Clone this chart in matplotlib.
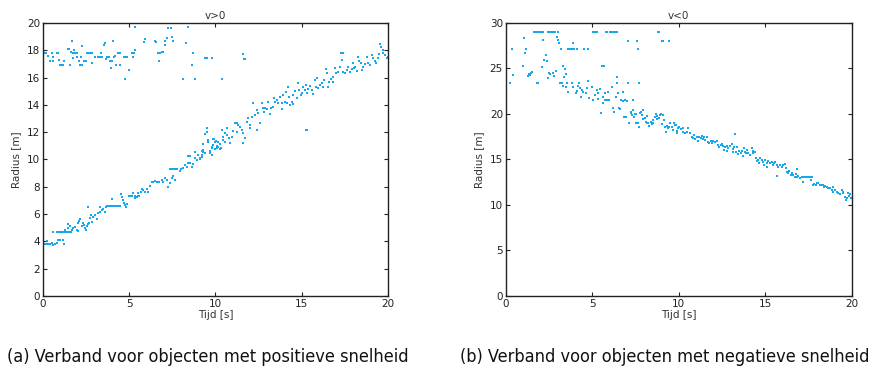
import matplotlib
matplotlib.use("Agg")
import matplotlib.pyplot as plt
import numpy as np

# --- data: (tijd [s], radius [m]) ---
# v>0, upper band (ghost targets near 17-19 m)
pos_upper = [
    (0.0, 17.8), (0.1, 17.8), (0.2, 17.8), (0.33, 17.55), (0.42, 17.25), (0.52, 17.8), (0.58, 17.5),
    (0.62, 17.25), (0.8, 17.8), (0.87, 17.8), (0.94, 17.3), (1.0, 16.95), (1.1, 16.9), (1.2, 16.9),
    (1.23, 17.2), (1.44, 18.1), (1.52, 18.1), (1.58, 16.95), (1.63, 17.9), (1.67, 18.7), (1.73, 17.8),
    (1.8, 18.05), (1.77, 17.45), (1.87, 17.8), (1.96, 17.8), (2.0, 17.5), (2.1, 17.2), (2.15, 16.95),
    (2.25, 16.95), (2.2, 17.5), (2.3, 18.3), (2.38, 17.2), (2.48, 17.2), (2.54, 17.8), (2.63, 17.8),
    (2.73, 17.8), (2.83, 17.8), (2.87, 17.05), (3.02, 17.5), (3.2, 17.5), (3.3, 17.5), (3.4, 17.8),
    (3.46, 17.5), (3.54, 18.4), (3.6, 18.55), (3.65, 17.35), (3.73, 17.5), (3.83, 17.5), (3.88, 17.2),
    (3.94, 16.7), (4.0, 17.2), (4.08, 18.7), (4.13, 17.5), (4.2, 17.55), (4.27, 16.9), (4.37, 17.8),
    (4.46, 16.9), (4.5, 17.8), (4.75, 15.9), (4.7, 17.5), (4.79, 17.5), (4.88, 17.5), (4.98, 16.55),
    (5.17, 17.8), (5.23, 17.5), (5.29, 17.8), (5.33, 18.05), (5.37, 19.7), (5.85, 18.6), (5.9, 18.85),
    (6.48, 18.7), (6.58, 18.6), (6.67, 17.8), (6.73, 17.25), (6.8, 17.8), (6.9, 17.9), (6.96, 17.9),
    (7.06, 18.7), (7.1, 18.4), (7.2, 18.9), (7.25, 19.65), (7.44, 19.65), (7.48, 19.0), (7.54, 18.7),
    (8.15, 15.9), (8.3, 18.55), (8.4, 19.7), (8.65, 16.9), (8.73, 17.8), (8.8, 15.9), (9.4, 17.4),
    (9.5, 17.4), (9.8, 17.4), (10.4, 15.9), (11.58, 17.73), (11.66, 17.36), (11.74, 17.36),
    (15.25, 12.16), (15.3, 12.16),
]

# v>0, main band (object moving away)
pos_main = [
    (0.0, 3.78), (0.1, 3.78), (0.2, 3.78), (0.3, 3.78), (0.4, 3.78), (0.23, 4.05), (0.52, 3.86),
    (0.62, 3.74), (0.58, 4.66), (0.71, 3.78), (0.81, 3.86), (0.9, 4.1), (1.0, 4.1), (1.2, 4.1),
    (1.25, 3.78), (0.8, 4.66), (0.9, 4.66), (1.0, 4.66), (1.1, 4.66), (1.2, 4.66), (1.3, 4.66),
    (1.4, 4.66), (1.5, 4.66), (1.6, 4.66), (1.65, 4.66), (1.3, 4.83), (1.49, 4.96), (1.49, 5.27),
    (1.58, 5.15), (1.68, 4.83), (1.78, 4.96), (1.87, 5.08), (1.97, 4.83), (2.07, 4.76), (2.07, 5.32),
    (2.12, 5.52), (2.16, 5.62), (2.26, 5.13), (2.32, 5.37), (2.39, 5.2), (2.45, 4.96), (2.51, 4.83),
    (2.55, 5.13), (2.64, 6.54), (2.64, 5.27), (2.7, 5.37), (2.74, 5.69), (2.78, 5.93), (2.84, 5.45),
    (2.93, 5.76), (3.03, 5.93), (3.13, 5.62), (3.22, 6.06), (3.32, 6.18), (3.32, 6.54), (3.42, 6.3),
    (3.51, 6.35), (3.61, 6.18), (3.67, 6.54), (3.7, 6.6), (3.8, 6.6), (3.9, 6.58), (4.0, 6.6),
    (4.1, 6.62), (4.2, 6.6), (4.3, 6.58), (4.4, 6.6), (4.48, 6.62), (4.03, 7.08), (4.52, 7.47),
    (4.58, 7.28), (4.67, 7.03), (4.71, 6.79), (4.77, 6.67), (4.83, 6.54), (4.9, 6.74), (5.02, 7.35),
    (5.1, 7.35), (5.2, 7.33), (5.35, 7.35), (5.5, 7.36), (5.6, 7.35), (5.25, 7.52), (5.35, 7.15),
    (5.44, 7.28), (5.54, 7.57), (5.68, 7.64), (5.73, 7.81), (5.83, 7.77), (5.93, 7.64), (6.02, 7.81),
    (6.12, 7.64), (6.22, 8.06), (6.31, 8.38), (6.4, 8.38), (6.5, 8.4), (6.6, 8.38), (6.75, 8.38),
    (6.89, 8.5), (6.99, 8.38), (7.08, 8.62), (7.28, 8.01), (7.37, 8.25), (7.47, 8.62), (7.57, 8.79),
    (7.66, 8.5), (7.18, 8.5), (7.4, 9.3), (7.5, 9.3), (7.6, 9.28), (7.7, 9.3), (7.8, 9.3), (8.0, 9.3),
    (7.95, 9.18), (8.15, 9.35), (8.24, 9.6), (8.34, 9.43), (8.4, 10.26), (8.44, 9.72), (8.53, 9.77),
    (8.63, 9.47), (8.73, 9.67), (8.82, 10.09), (8.92, 9.96), (9.02, 10.33), (9.11, 10.01),
    (9.21, 10.21), (9.3, 10.57), (9.4, 10.5), (9.69, 10.57), (9.79, 10.33), (8.53, 10.28),
    (8.8, 10.55), (9.2, 10.6), (9.3, 11.1), (9.4, 11.9), (9.5, 12.3), (9.6, 11.3), (9.7, 10.6),
    (9.8, 10.9), (9.9, 11.5), (10.0, 11.3), (10.1, 10.85), (9.11, 10.09), (9.2, 10.33), (9.3, 10.7),
    (9.5, 12.04), (9.59, 11.43), (9.69, 10.45), (9.78, 10.82), (9.88, 11.06), (9.88, 11.48),
    (9.98, 10.74), (10.04, 11.36), (10.07, 10.99), (10.17, 10.94), (10.17, 11.31), (10.27, 10.74),
    (10.27, 11.14), (10.33, 10.82), (10.36, 12.16), (10.42, 11.43), (10.46, 11.67), (10.56, 11.97),
    (10.56, 11.31), (10.65, 12.28), (10.69, 11.79), (10.8, 11.6), (10.84, 11.18), (10.94, 11.67),
    (11.04, 12.11), (11.14, 12.7), (11.24, 12.65), (11.24, 12.04), (11.33, 12.53), (11.43, 12.36),
    (11.53, 12.16), (11.58, 11.23), (11.62, 11.92), (11.72, 11.55), (11.82, 12.77), (11.91, 13.06),
    (12.01, 12.53), (12.01, 12.28), (12.1, 13.14), (12.2, 14.16), (12.3, 13.26), (12.39, 12.16),
    (12.43, 13.63), (12.49, 13.38), (12.59, 12.65), (12.68, 14.16), (12.74, 13.75), (12.82, 13.5),
    (12.87, 13.75), (12.97, 13.68), (13.07, 14.24), (13.16, 13.33), (13.2, 13.75), (13.32, 13.87),
    (13.4, 14.48), (13.45, 14.24), (13.55, 14.36), (13.65, 14.11), (13.74, 14.55), (13.84, 13.68),
    (13.84, 14.11), (13.94, 14.73), (14.03, 14.24), (14.09, 14.97), (14.17, 14.16), (14.23, 15.29),
    (14.29, 14.55), (14.33, 13.99), (14.42, 14.24), (14.48, 14.73), (14.52, 14.07), (14.61, 15.04),
    (14.71, 14.48), (14.81, 15.58), (14.86, 15.09), (14.94, 14.73), (15.0, 14.85), (15.1, 15.34),
    (15.19, 15.09), (15.25, 15.46), (15.29, 14.9), (15.39, 15.14), (15.48, 15.38), (15.58, 15.09),
    (15.67, 14.8), (15.77, 15.82), (15.83, 15.34), (15.9, 15.94), (15.96, 15.21), (16.06, 15.46),
    (16.15, 15.58), (16.25, 15.34), (16.31, 15.82), (16.41, 16.61), (16.45, 16.31), (16.54, 15.34),
    (16.6, 15.7), (16.68, 15.87), (16.79, 16.07), (16.83, 15.7), (16.93, 16.68), (16.98, 16.31),
    (17.12, 16.43), (17.22, 16.75), (17.28, 17.78), (17.32, 17.29), (17.37, 17.78), (17.41, 16.43),
    (17.51, 16.36), (17.61, 16.56), (17.7, 16.8), (17.8, 16.43), (17.9, 16.61), (17.96, 17.05),
    (18.03, 16.68), (18.09, 16.8), (18.19, 16.51), (18.24, 17.53), (18.34, 17.24), (18.41, 17.09),
    (18.5, 16.56), (18.57, 16.8), (18.66, 17.0), (18.76, 17.53), (18.86, 17.05), (18.96, 16.92),
    (19.05, 17.66), (19.15, 17.41), (19.25, 17.24), (19.3, 17.09), (19.4, 17.41), (19.49, 17.73),
    (19.53, 18.46), (19.62, 18.22), (19.69, 17.78), (19.73, 18.02), (19.82, 17.66), (19.92, 17.41),
    (20.0, 17.53),
]

# v<0, upper cluster (23-29 m)
neg_upper = [
    (0.25, 23.37), (0.39, 27.1), (0.44, 24.29), (1.02, 25.27), (1.06, 28.39), (1.12, 26.74),
    (1.16, 27.1), (1.31, 24.18), (1.35, 24.4), (1.41, 24.29), (1.45, 24.54), (1.5, 24.65),
    (1.64, 28.97), (1.73, 28.97), (1.83, 28.97), (1.93, 28.97), (2.06, 28.97), (2.14, 28.97),
    (1.79, 23.37), (1.89, 23.37), (2.08, 25.2), (2.18, 28.13), (2.24, 25.93), (2.33, 26.48),
    (2.37, 25.86), (2.47, 23.92), (2.52, 24.54), (2.56, 24.4), (2.47, 28.97), (2.56, 28.97),
    (2.66, 28.97), (2.76, 28.97), (2.85, 28.97), (2.76, 24.54), (2.81, 24.18), (2.91, 24.76),
    (2.95, 28.5), (3.0, 28.13), (3.04, 28.97), (3.1, 27.77), (3.14, 23.37), (3.2, 27.1),
    (3.24, 23.37), (3.29, 25.27), (3.33, 23.08), (3.37, 24.03), (3.43, 24.91), (3.49, 24.4),
    (3.53, 23.37), (3.62, 27.1), (3.72, 27.1), (3.82, 23.37), (3.82, 27.1), (3.91, 27.77),
    (3.96, 27.1), (4.1, 27.1), (4.26, 23.37), (4.53, 27.1), (4.74, 23.66), (4.78, 27.1),
    (5.07, 28.97), (5.16, 28.97), (5.26, 28.97), (5.55, 25.27), (5.68, 25.27), (5.8, 28.97),
    (5.88, 28.97), (6.03, 28.97), (6.13, 28.97), (6.22, 28.97), (6.32, 28.97), (6.42, 28.97),
    (6.45, 23.37), (6.45, 24.03), (7.05, 23.37), (7.09, 28.06), (7.57, 28.06), (7.63, 27.1),
    (7.71, 23.37), (8.82, 28.97), (8.88, 28.97), (9.02, 28.06), (9.07, 28.06), (9.46, 28.06),
]

# v<0, main band (object approaching)
neg_main = [
    (3.49, 22.93), (3.62, 22.45), (3.87, 22.93), (4.07, 22.34), (4.14, 22.56), (4.2, 23.08),
    (4.3, 22.82), (4.34, 21.83), (4.39, 22.64), (4.45, 22.45), (4.64, 22.34), (4.68, 22.82),
    (4.84, 21.72), (4.97, 23.0), (5.03, 21.54), (5.16, 22.09), (5.26, 22.64), (5.32, 22.34),
    (5.36, 21.61), (5.45, 22.71), (5.49, 20.07), (5.65, 21.9), (5.61, 21.17), (5.74, 22.27),
    (5.74, 21.54), (5.84, 21.54), (5.93, 22.45), (6.0, 21.54), (6.13, 23.0), (6.18, 20.62),
    (6.26, 20.26), (6.38, 21.9), (6.51, 22.27), (6.57, 20.62), (6.67, 21.54), (6.76, 22.45),
    (6.84, 19.63), (6.9, 21.54), (6.96, 19.63), (7.15, 19.05), (7.23, 20.26), (7.28, 19.89),
    (7.34, 20.44), (7.38, 21.54), (7.42, 19.71), (7.48, 20.0), (7.53, 20.0), (7.67, 19.05),
    (7.73, 18.53), (7.76, 20.07), (7.8, 20.26), (7.86, 19.89), (7.92, 20.44), (7.96, 19.41),
    (8.05, 19.52), (8.11, 19.16), (8.15, 19.78), (8.25, 18.97), (8.3, 18.68), (8.38, 19.16),
    (8.44, 18.9), (8.54, 19.34), (8.63, 19.71), (8.69, 20.0), (8.73, 19.41), (8.88, 19.52),
    (8.92, 19.89), (9.02, 18.9), (9.11, 19.89), (9.15, 19.34), (9.21, 18.6), (9.31, 18.68),
    (9.4, 18.42), (9.5, 18.97), (9.6, 18.6), (9.69, 18.24), (9.79, 18.79), (9.88, 17.88),
    (9.98, 18.42), (6.8, 21.47), (7.0, 21.47), (6.61, 20.51), (7.22, 20.15), (7.47, 20.0),
    (7.53, 18.97), (8.19, 19.05), (8.53, 19.05), (8.76, 19.78), (8.96, 20.0), (9.27, 18.06),
    (9.46, 18.53), (9.73, 18.97), (9.84, 18.79), (9.92, 18.17), (10.03, 18.53), (10.11, 18.32),
    (10.23, 18.06), (10.27, 18.42), (10.36, 17.88), (10.46, 18.06), (10.56, 18.42), (10.65, 17.88),
    (10.75, 17.51), (10.81, 17.33), (10.88, 17.69), (10.94, 17.22), (11.04, 17.44), (11.13, 17.07),
    (11.19, 17.51), (11.27, 17.33), (11.33, 17.58), (11.38, 17.22), (11.46, 17.44), (11.52, 17.14),
    (11.63, 17.44), (11.72, 16.96), (11.78, 16.78), (11.86, 17.07), (11.91, 16.85), (12.01, 17.07),
    (12.1, 16.96), (12.2, 17.07), (12.29, 16.59), (12.35, 16.34), (12.43, 16.59), (12.49, 16.7),
    (12.58, 16.48), (12.62, 16.04), (12.68, 16.34), (12.77, 16.48), (12.81, 15.97), (12.87, 16.23),
    (12.97, 16.48), (13.07, 16.7), (13.12, 16.12), (13.16, 15.86), (13.2, 16.34), (13.26, 17.8),
    (13.31, 15.86), (13.39, 16.34), (13.45, 15.6), (13.51, 15.97), (13.58, 15.68), (13.64, 15.97),
    (13.7, 15.38), (13.78, 16.23), (13.83, 15.86), (13.89, 15.68), (13.93, 16.04), (14.03, 15.75),
    (14.12, 15.49), (14.22, 16.23), (14.28, 15.97), (14.32, 15.68), (14.41, 15.86), (14.47, 15.13),
    (14.51, 14.87), (14.6, 14.95), (14.66, 14.65), (14.7, 15.13), (14.8, 14.95), (14.89, 14.76),
    (14.93, 14.4), (14.99, 14.95), (15.08, 14.65), (15.12, 14.14), (15.18, 14.87), (15.28, 14.58),
    (15.37, 14.76), (15.43, 14.4), (15.51, 14.65), (15.57, 14.76), (15.67, 14.4), (15.7, 13.19),
    (15.76, 14.14), (15.86, 14.4), (15.95, 14.21), (16.05, 14.4), (16.15, 14.51), (16.2, 14.03),
    (16.24, 13.66), (16.34, 13.48), (16.4, 13.77), (16.47, 13.3), (16.53, 13.48), (16.63, 13.3),
    (16.72, 13.11), (16.78, 13.41), (16.82, 13.92), (16.86, 13.04), (16.92, 13.19), (17.01, 12.93),
    (17.11, 13.11), (17.17, 12.56), (17.24, 13.04), (17.3, 13.04), (17.4, 13.04), (17.49, 13.04),
    (17.59, 13.04), (17.69, 13.04), (17.63, 12.75), (17.75, 12.2), (17.82, 12.31), (17.94, 12.2),
    (18.01, 12.38), (18.07, 12.45), (18.17, 12.2), (18.26, 12.2), (18.36, 12.2), (18.4, 11.94),
    (18.46, 12.09), (18.55, 12.01), (18.65, 11.83), (18.75, 11.83), (18.84, 11.65), (18.9, 11.94),
    (18.94, 11.47), (19.03, 11.65), (19.13, 11.47), (19.23, 11.28), (19.32, 11.21), (19.42, 11.65),
    (19.48, 11.28), (19.52, 11.47), (19.61, 10.92), (19.67, 10.55), (19.75, 10.73), (19.8, 11.28),
    (19.86, 10.99), (19.9, 11.21), (19.94, 10.73),
]

titles = ["v>0", "v<0"]
captions = ["(a) Verband voor objecten met positieve snelheid",
            "(b) Verband voor objecten met negatieve snelheid"]
ylims = [(0, 20), (0, 30)]
yticks = [np.arange(0, 21, 2), np.arange(0, 31, 5)]
xticks = [0, 5, 10, 15, 20]

dot_color = '#16A8EA'
tick_fs = 7.5

fig = plt.figure(figsize=(8.77, 3.74), dpi=100)
ax1 = fig.add_axes([0.0487, 0.2086, 0.3937, 0.730])
ax2 = fig.add_axes([0.5766, 0.2086, 0.3945, 0.730])

panels = [(ax1, pos_upper + pos_main), (ax2, neg_upper + neg_main)]
for i, (ax, pts) in enumerate(panels):
    pts = np.array(pts)
    ax.plot(pts[:, 0], pts[:, 1], 's', color=dot_color, ms=1.7, mew=0, linestyle='none')
    ax.set_xlim(0, 20)
    ax.set_ylim(*ylims[i])
    ax.set_xticks(xticks)
    ax.set_yticks(yticks[i])
    ax.tick_params(direction='in', top=True, right=True, length=3, width=0.8,
                   labelsize=tick_fs, colors='#222222', pad=2)
    for sp in ax.spines.values():
        sp.set_linewidth(1.0)
        sp.set_color('#222222')
    ax.set_title(titles[i], fontsize=tick_fs, color='#333333', pad=3)
    ax.set_xlabel('Tijd [s]', fontsize=tick_fs, color='#333333', labelpad=1)
    ax.set_ylabel('Radius [m]', fontsize=tick_fs, color='#333333', labelpad=4)

# captions under the panels, condensed face
cap_kw = dict(ha='center', va='center', fontsize=13, family='DejaVu Sans',
              fontstretch='condensed', color='#111111')
fig.text(0.2372, 0.045, captions[0], **cap_kw)
fig.text(0.7575, 0.045, captions[1], **cap_kw)

fig.savefig('out.png', dpi=100)
